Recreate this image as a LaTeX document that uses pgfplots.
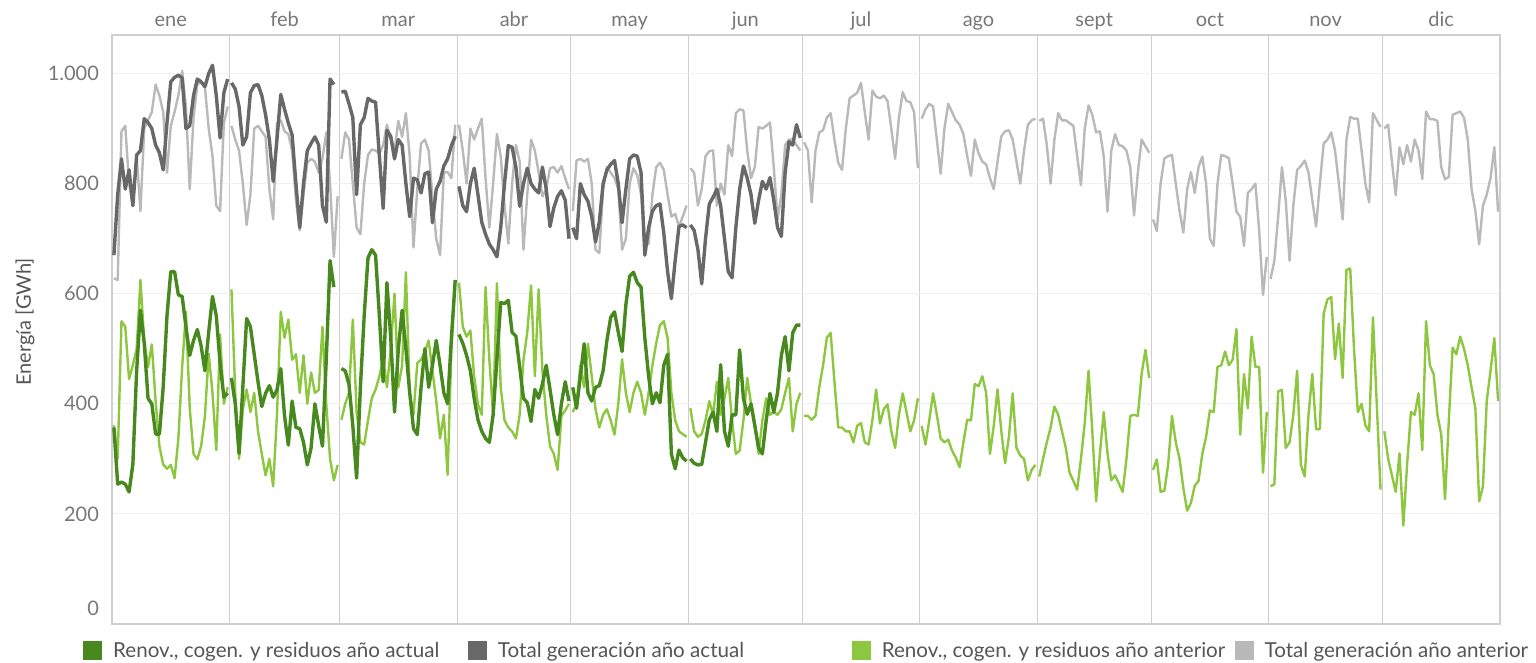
\documentclass[border=0pt]{standalone}
\usepackage{fontspec}
\setmainfont{Lato}
\usepackage{pgfplots}
\pgfplotsset{compat=1.18}

\definecolor{dgreen}{HTML}{47891F}
\definecolor{dgray}{HTML}{686868}
\definecolor{lgreen}{HTML}{8DC63F}
\definecolor{lgray}{HTML}{B9B9B9}
\definecolor{framegray}{HTML}{CFCFCF}
\definecolor{gridgray}{HTML}{F0F0F0}
\definecolor{tickgray}{HTML}{777777}
\definecolor{txtgray}{HTML}{555555}

\begin{document}
\begin{tikzpicture}
\begin{axis}[
    scale only axis, width=694pt, height=294.5pt,
    xmin=0.5, xmax=366.5, ymin=0, ymax=1070,
    unbounded coords=jump,
    font=\fontsize{10}{12}\selectfont,
    axis line style={draw=framegray, line width=0.6pt},
    tick style={draw=none},
    % month separators
    xtick={31.5,60.5,91.5,121.5,152.5,182.5,213.5,244.5,274.5,305.5,335.5},
    xticklabels={},
    xmajorgrids,
    major x grid style={draw=framegray, line width=0.6pt},
    % month names on top
    extra x ticks={16,46,76,106.5,137,167.5,198,229,259.5,290,320.5,351},
    extra x tick labels={ene,feb,mar,abr,may,jun,jul,ago,sept,oct,nov,dic},
    extra x tick style={xmajorgrids=false},
    xticklabel pos=upper,
    xticklabel style={anchor=base, yshift=4pt, text=tickgray},
    ytick={200,400,600,800,1000},
    ymajorgrids,
    major y grid style={draw=gridgray, line width=0.5pt},
    extra y ticks={0},
    extra y tick style={ymajorgrids=false, yticklabel style={yshift=8pt}},
    yticklabel style={text=tickgray, xshift=-3pt},
    /pgf/number format/1000 sep={.},
    /pgf/number format/assume math mode=true,
    ylabel={Energía [GWh]},
    ylabel style={at={(axis description cs:-0.0627,0.513)}, anchor=center, text=txtgray},
    legend columns=4,
    legend cell align=left,
    legend style={draw=none, fill=none, inner sep=0pt,
        at={(-0.0209,-0.046)}, anchor=west,
        font=\fontsize{10.3}{12}\selectfont, text=txtgray,
        nodes={inner sep=0pt},
        cells={anchor=base west},
        /tikz/column sep=0pt,
        /tikz/every odd column/.append style={column sep=5.5pt}},
]
% Total generacion ano anterior
\addplot[lgray, line width=1.2pt, line join=round, forget plot] coordinates {
(1,628)(2,625)(3,895)(4,905)(5,800)(6,760)(7,850)(8,750)(9,900)(10,915)
(11,930)(12,980)(13,960)(14,930)(15,820)(16,905)(17,930)(18,960)(19,1005)(20,940)
(21,790)(22,920)(23,980)(24,985)(25,975)(26,900)(27,850)(28,760)(29,750)(30,910)(31,940)
(31.5,nan)
(32,905)(33,880)(34,860)(35,800)(36,725)(37,780)(38,900)(39,905)(40,895)(41,885)
(42,790)(43,735)(44,910)(45,915)(46,895)(47,890)(48,860)(49,770)(50,715)(51,780)
(52,838)(53,845)(54,840)(55,820)(56,846)(57,893)(58,800)(59,667)(60,777)
(60.5,nan)
(61,845)(62,893)(63,880)(64,800)(65,720)(66,708)(67,800)(68,852)(69,862)(70,860)
(71,855)(72,870)(73,907)(74,880)(75,860)(76,914)(77,885)(78,928)(79,850)(80,684)
(81,790)(82,873)(83,880)(84,860)(85,777)(86,700)(87,670)(88,820)(89,821)(90,810)(91,907)
(91.5,nan)
(92,907)(93,860)(94,800)(95,900)(96,880)(97,900)(98,918)(99,810)(100,720)(101,800)
(102,890)(103,850)(104,760)(105,691)(106,800)(107,870)(108,840)(109,680)(110,780)(111,880)
(112,860)(113,820)(114,777)(115,790)(116,828)(117,830)(118,820)(119,832)(120,810)(121,790)
(121.5,nan)
(122,750)(123,842)(124,845)(125,840)(126,845)(127,800)(128,680)(129,674)(130,790)(131,830)
(132,820)(133,810)(134,790)(135,680)(136,700)(137,800)(138,828)(139,815)(140,780)(141,700)
(142,690)(143,780)(144,830)(145,838)(146,825)(147,780)(148,740)(149,745)(150,722)(151,740)(152,760)
(152.5,nan)
(153,828)(154,820)(155,760)(156,790)(157,850)(158,859)(159,860)(160,760)(161,800)(162,780)
(163,870)(164,850)(165,928)(166,935)(167,933)(168,860)(169,810)(170,830)(171,903)(172,900)
(173,905)(174,911)(175,830)(176,735)(177,780)(178,870)(179,880)(180,880)(181,870)(182,860)
(182.5,nan)
(183,875)(184,860)(185,766)(186,860)(187,893)(188,897)(189,920)(190,928)(191,880)(192,838)
(193,825)(194,900)(195,955)(196,960)(197,965)(198,983)(199,930)(200,880)(201,969)(202,958)
(203,955)(204,960)(205,950)(206,900)(207,845)(208,920)(209,966)(210,950)(211,948)(212,930)(213,828)
(213.5,nan)
(214,918)(215,935)(216,945)(217,940)(218,880)(219,818)(220,900)(221,945)(222,930)(223,915)
(224,907)(225,890)(226,850)(227,814)(228,880)(229,855)(230,840)(231,835)(232,810)(233,790)
(234,840)(235,886)(236,895)(237,897)(238,880)(239,840)(240,800)(241,860)(242,907)(243,915)(244,918)
(244.5,nan)
(245,914)(246,918)(247,870)(248,800)(249,880)(250,928)(251,915)(252,915)(253,910)(254,905)
(255,850)(256,797)(257,900)(258,942)(259,925)(260,893)(261,895)(262,850)(263,749)(264,860)
(265,890)(266,870)(267,868)(268,860)(269,830)(270,742)(271,820)(272,880)(273,868)(274,856)
(274.5,nan)
(275,735)(276,714)(277,800)(278,846)(279,850)(280,852)(281,800)(282,750)(283,711)(284,790)
(285,821)(286,783)(287,830)(288,849)(289,800)(290,700)(291,687)(292,800)(293,852)(294,850)
(295,846)(296,800)(297,749)(298,740)(299,687)(300,783)(301,790)(302,800)(303,714)(304,598)(305,667)
(305.5,nan)
(306,627)(307,660)(308,740)(309,830)(310,770)(311,660)(312,760)(313,825)(314,832)(315,842)
(316,820)(317,770)(318,722)(319,800)(320,873)(321,880)(322,893)(323,860)(324,800)(325,735)
(326,880)(327,921)(328,918)(329,918)(330,860)(331,800)(332,766)(333,928)(334,915)(335,903)
(335.5,nan)
(336,900)(337,907)(338,840)(339,779)(340,866)(341,835)(342,870)(343,840)(344,880)(345,860)
(346,808)(347,931)(348,917)(349,917)(350,914)(351,830)(352,808)(353,812)(354,925)(355,928)
(356,931)(357,920)(358,880)(359,790)(360,750)(361,690)(362,760)(363,780)(364,810)(365,866)(366,749)
};
% Renov., cogen. y residuos ano anterior
\addplot[lgreen, line width=1.2pt, line join=round, forget plot] coordinates {
(1,361)(2,300)(3,550)(4,540)(5,445)(6,470)(7,500)(8,625)(9,515)(10,467)
(11,508)(12,405)(13,323)(14,290)(15,282)(16,289)(17,265)(18,337)(19,467)(20,567)
(21,392)(22,309)(23,299)(24,323)(25,378)(26,491)(27,420)(28,316)(29,526)(30,400)(31,430)
(31.5,nan)
(32,608)(33,420)(34,300)(35,390)(36,426)(37,385)(38,420)(39,350)(40,309)(41,270)
(42,300)(43,250)(44,380)(45,567)(46,520)(47,553)(48,480)(49,490)(50,420)(51,488)
(52,400)(53,457)(54,420)(55,425)(56,540)(57,400)(58,300)(59,261)(60,289)
(60.5,nan)
(61,371)(62,400)(63,420)(64,553)(65,385)(66,330)(67,326)(68,370)(69,410)(70,426)
(71,450)(72,481)(73,430)(74,500)(75,600)(76,430)(77,470)(78,639)(79,420)(80,380)
(81,474)(82,480)(83,495)(84,515)(85,460)(86,405)(87,337)(88,380)(89,271)(90,500)(91,620)
(91.5,nan)
(92,620)(93,540)(94,522)(95,533)(96,450)(97,399)(98,380)(99,612)(100,480)(101,378)
(102,619)(103,430)(104,370)(105,357)(106,350)(107,337)(108,380)(109,480)(110,530)(111,615)
(112,450)(113,608)(114,460)(115,380)(116,323)(117,309)(118,280)(119,378)(120,388)(121,400)
(121.5,nan)
(122,385)(123,400)(124,470)(125,430)(126,509)(127,450)(128,390)(129,357)(130,380)(131,390)
(132,370)(133,344)(134,400)(135,481)(136,420)(137,385)(138,420)(139,440)(140,420)(141,380)
(142,420)(143,470)(144,510)(145,543)(146,550)(147,520)(148,420)(149,370)(150,350)(151,345)(152,340)
(152.5,nan)
(153,392)(154,350)(155,340)(156,345)(157,370)(158,405)(159,380)(160,440)(161,380)(162,410)
(163,447)(164,370)(165,309)(166,315)(167,370)(168,447)(169,400)(170,365)(171,309)(172,370)
(173,410)(174,380)(175,385)(176,380)(177,390)(178,420)(179,447)(180,350)(181,400)(182,420)
(182.5,nan)
(183,378)(184,378)(185,371)(186,378)(187,430)(188,470)(189,520)(190,529)(191,440)(192,357)
(193,357)(194,350)(195,350)(196,330)(197,360)(198,365)(199,330)(200,326)(201,370)(202,426)
(203,364)(204,390)(205,399)(206,350)(207,320)(208,380)(209,419)(210,385)(211,350)(212,370)(213,410)
(213.5,nan)
(214,360)(215,326)(216,370)(217,419)(218,380)(219,337)(220,330)(221,335)(222,315)(223,302)
(224,285)(225,330)(226,371)(227,370)(228,436)(229,432)(230,450)(231,420)(232,309)(233,360)
(234,426)(235,350)(236,292)(237,340)(238,419)(239,320)(240,306)(241,300)(242,261)(243,280)(244,289)
(244.5,nan)
(245,268)(246,300)(247,330)(248,357)(249,395)(250,380)(251,350)(252,320)(253,275)(254,260)
(255,244)(256,300)(257,365)(258,460)(259,350)(260,223)(261,310)(262,385)(263,310)(264,261)
(265,270)(266,255)(267,240)(268,300)(269,378)(270,380)(271,378)(272,454)(273,498)(274,447)
(274.5,nan)
(275,280)(276,299)(277,240)(278,242)(279,290)(280,378)(281,330)(282,300)(283,247)(284,206)
(285,220)(286,251)(287,260)(288,309)(289,340)(290,388)(291,385)(292,467)(293,470)(294,495)
(295,470)(296,480)(297,536)(298,344)(299,454)(300,392)(301,522)(302,467)(303,467)(304,275)(305,385)
(305.5,nan)
(306,250)(307,254)(308,423)(309,425)(310,320)(311,330)(312,380)(313,460)(314,289)(315,268)
(316,380)(317,454)(318,354)(319,354)(320,564)(321,590)(322,594)(323,481)(324,546)(325,447)
(326,643)(327,646)(328,500)(329,385)(330,400)(331,361)(332,350)(333,557)(334,400)(335,244)
(335.5,nan)
(336,350)(337,300)(338,270)(339,240)(340,310)(341,179)(342,290)(343,385)(344,380)(345,419)
(346,316)(347,550)(348,470)(349,454)(350,380)(351,344)(352,227)(353,370)(354,502)(355,490)
(356,522)(357,500)(358,470)(359,430)(360,392)(361,223)(362,250)(363,405)(364,460)(365,519)(366,405)
};
% Total generacion ano actual
\addplot[dgray, line width=1.7pt, line join=round, forget plot] coordinates {
(1,670)(2,780)(3,845)(4,790)(5,825)(6,760)(7,852)(8,860)(9,918)(10,911)
(11,900)(12,870)(13,856)(14,825)(15,910)(16,985)(17,993)(18,997)(19,992)(20,900)
(21,905)(22,960)(23,990)(24,985)(25,976)(26,1000)(27,1015)(28,960)(29,883)(30,965)(31,990)
(31.5,nan)
(32,983)(33,972)(34,940)(35,870)(36,885)(37,965)(38,978)(39,980)(40,960)(41,925)
(42,880)(43,804)(44,880)(45,962)(46,935)(47,910)(48,888)(49,800)(50,720)(51,800)
(52,860)(53,873)(54,885)(55,870)(56,760)(57,730)(58,990)(59,980)
(60.5,nan)
(61,966)(62,968)(63,945)(64,920)(65,780)(66,907)(67,920)(68,955)(69,950)(70,948)
(71,850)(72,755)(73,897)(74,886)(75,845)(76,880)(77,870)(78,800)(79,740)(80,810)
(81,807)(82,783)(83,818)(84,821)(85,729)(86,790)(87,804)(88,832)(89,845)(90,869)(91,886)
(91.5,nan)
(92,795)(93,760)(94,749)(95,800)(96,828)(97,780)(98,730)(99,708)(100,690)(101,680)
(102,667)(103,720)(104,800)(105,869)(106,866)(107,830)(108,759)(109,800)(110,828)(111,800)
(112,790)(113,783)(114,830)(115,790)(116,722)(117,756)(118,777)(119,787)(120,770)(121,700)
(121.5,nan)
(122,720)(123,700)(124,800)(125,780)(126,768)(127,740)(128,694)(129,730)(130,800)(131,825)
(132,835)(133,842)(134,800)(135,729)(136,790)(137,845)(138,852)(139,850)(140,820)(141,670)
(142,720)(143,750)(144,760)(145,763)(146,710)(147,640)(148,591)(149,660)(150,722)(151,725)(152,720)
(152.5,nan)
(153,725)(154,715)(155,680)(156,618)(157,700)(158,763)(159,775)(160,790)(161,760)(162,700)
(163,640)(164,629)(165,720)(166,790)(167,832)(168,810)(169,780)(170,728)(171,770)(172,804)
(173,790)(174,811)(175,770)(176,720)(177,704)(178,820)(179,876)(180,870)(181,907)(182,883)
};
% Renov., cogen. y residuos ano actual
\addplot[dgreen, line width=1.7pt, line join=round, forget plot] coordinates {
(1,357)(2,254)(3,258)(4,254)(5,240)(6,290)(7,460)(8,570)(9,510)(10,410)
(11,400)(12,345)(13,345)(14,430)(15,560)(16,640)(17,640)(18,598)(19,595)(20,540)
(21,488)(22,515)(23,535)(24,505)(25,460)(26,530)(27,595)(28,560)(29,474)(30,412)(31,419)
(31.5,nan)
(32,447)(33,400)(34,310)(35,430)(36,555)(37,540)(38,490)(39,440)(40,395)(41,419)
(42,433)(43,412)(44,425)(45,464)(46,378)(47,325)(48,405)(49,357)(50,355)(51,330)
(52,289)(53,320)(54,400)(55,360)(56,323)(57,480)(58,660)(59,612)
(60.5,nan)
(61,464)(62,460)(63,435)(64,360)(65,265)(66,430)(67,560)(68,665)(69,680)(70,670)
(71,560)(72,440)(73,620)(74,520)(75,385)(76,500)(77,570)(78,500)(79,420)(80,355)
(81,344)(82,430)(83,500)(84,430)(85,470)(86,515)(87,470)(88,420)(89,400)(90,520)(91,625)
(91.5,nan)
(92,526)(93,510)(94,488)(95,460)(96,410)(97,371)(98,350)(99,337)(100,330)(101,380)
(102,481)(103,584)(104,582)(105,588)(106,530)(107,523)(108,467)(109,410)(110,402)(111,368)
(112,426)(113,410)(114,436)(115,470)(116,426)(117,380)(118,344)(119,400)(120,440)(121,405)
(121.5,nan)
(122,430)(123,392)(124,450)(125,509)(126,420)(127,405)(128,430)(129,433)(130,460)(131,515)
(132,557)(133,567)(134,530)(135,495)(136,580)(137,632)(138,639)(139,620)(140,612)(141,520)
(142,450)(143,400)(144,420)(145,402)(146,470)(147,490)(148,309)(149,282)(150,316)(151,302)(152,296)
(152.5,nan)
(153,300)(154,292)(155,289)(156,290)(157,330)(158,371)(159,385)(160,350)(161,471)(162,350)
(163,323)(164,380)(165,380)(166,498)(167,410)(168,381)(169,400)(170,360)(171,320)(172,309)
(173,370)(174,419)(175,385)(176,420)(177,488)(178,522)(179,460)(180,529)(181,543)(182,543)
};
\addlegendimage{legend image code/.code={\fill[dgreen] (0pt,-1pt) rectangle (9pt,8pt);}}
\addlegendentry{\makebox[177.5pt][l]{Renov., cogen. y residuos año actual}}
\addlegendimage{legend image code/.code={\fill[dgray] (0pt,-1pt) rectangle (9pt,8pt);}}
\addlegendentry{\makebox[177pt][l]{Total generación año actual}}
\addlegendimage{legend image code/.code={\fill[lgreen] (0pt,-1pt) rectangle (9pt,8pt);}}
\addlegendentry{\makebox[176.5pt][l]{Renov., cogen. y residuos año anterior}}
\addlegendimage{legend image code/.code={\fill[lgray] (0pt,-1pt) rectangle (9pt,8pt);}}
\addlegendentry{Total generación año anterior}
\end{axis}
\pgfresetboundingbox
\path[use as bounding box] ([xshift=-56pt,yshift=-19.5pt]current axis.south west)
    rectangle ([xshift=18pt,yshift=17.5pt]current axis.north east);
\end{tikzpicture}
\end{document}
